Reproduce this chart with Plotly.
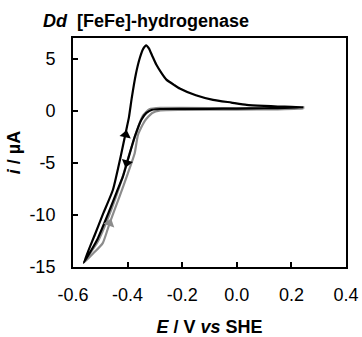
import plotly.graph_objects as go

# Black cyclic voltammogram (scan order)
black_E = [-0.561, -0.52, -0.49, -0.454, -0.423, -0.407, -0.395, -0.385, -0.37, -0.355, -0.342,
           -0.332, -0.322, -0.31, -0.295, -0.275, -0.258, -0.23, -0.209, -0.15, -0.087, -0.02,
           0.036, 0.1, 0.15, 0.2, 0.245,
           0.2, 0.1, 0.0, -0.1, -0.2, -0.28, -0.31, -0.331, -0.35, -0.374, -0.399, -0.417,
           -0.44, -0.47, -0.51, -0.561]
black_i = [-14.6, -11.9, -9.9, -7.6, -4.1, -2.1, -0.6, 1.2, 3.5, 5.1, 6.0,
           6.3, 6.0, 5.3, 4.45, 3.6, 3.0, 2.5, 2.15, 1.5, 1.06, 0.8,
           0.58, 0.48, 0.42, 0.38, 0.36,
           0.3, 0.25, 0.22, 0.2, 0.2, 0.18, 0.1, -0.2, -0.87, -2.5, -4.7, -6.3,
           -7.8, -9.8, -12.3, -14.6]

# Grey cyclic voltammogram
grey_E = [-0.561, -0.53, -0.491, -0.466, -0.429, -0.399, -0.374, -0.362, -0.338, -0.31,
          -0.28, -0.2, 0.0, 0.15, 0.245,
          0.15, 0.0, -0.2, -0.28, -0.32, -0.345, -0.37, -0.395, -0.42, -0.46, -0.51, -0.561]
grey_i = [-14.6, -13.8, -12.7, -10.8, -8.2, -6.0, -4.07, -2.3, -1.0, -0.2,
          0.05, 0.1, 0.12, 0.15, 0.2,
          0.25, 0.25, 0.28, 0.28, 0.15, -0.5, -2.2, -4.3, -6.5, -9.5, -12.6, -14.6]

# Scan-direction arrows
arrow_E = [-0.407, -0.403, -0.466]
arrow_i = [-2.3, -5.0, -10.8]
arrow_symbol = ["triangle-up", "triangle-down", "triangle-up"]
arrow_angle = [12, 16, 18]
arrow_color = ["black", "black", "#8c8c8c"]

x_ticks = [-0.6, -0.4, -0.2, 0.0, 0.2, 0.4]
x_tick_labels = ["-0.6", "-0.4", "-0.2", "0.0", "0.2", "0.4"]
y_ticks = [-15, -10, -5, 0, 5]
y_tick_labels = ["-15", "-10", "-5", "0", "5"]

fig = go.Figure()
fig.add_trace(go.Scatter(x=grey_E, y=grey_i, mode="lines",
                         line=dict(color="#8c8c8c", width=2.2, shape="spline", smoothing=0.5),
                         showlegend=False))
fig.add_trace(go.Scatter(x=black_E, y=black_i, mode="lines",
                         line=dict(color="black", width=2.2, shape="spline", smoothing=0.5),
                         showlegend=False))
fig.add_trace(go.Scatter(x=arrow_E, y=arrow_i, mode="markers",
                         marker=dict(symbol=arrow_symbol, angle=arrow_angle, size=10,
                                     color=arrow_color, line=dict(width=0)),
                         showlegend=False))

font_family = "Liberation Sans, Arial, sans-serif"
axis_common = dict(showline=True, mirror=True, linewidth=2, linecolor="black",
                   ticks="inside", ticklen=5, tickwidth=2, tickcolor="black",
                   showgrid=False, zeroline=False, automargin=False,
                   tickfont=dict(family=font_family, size=18, color="black"))

fig.update_xaxes(range=[-0.6, 0.4], tickvals=x_ticks, ticktext=x_tick_labels,
                 ticklabelstandoff=10,
                 title=dict(text="<b><i>E</i> / V <i>vs</i> SHE</b>",
                            font=dict(family=font_family, size=18, color="black"),
                            standoff=22),
                 **axis_common)
fig.update_yaxes(range=[-15, 7], tickvals=y_ticks, ticktext=y_tick_labels,
                 ticklabelstandoff=12,
                 title=dict(text="<b><i>i</i> / µA</b>",
                            font=dict(family=font_family, size=18, color="black"),
                            standoff=4),
                 **axis_common)

fig.update_layout(
    width=362, height=337,
    margin=dict(l=73, r=16, t=38, b=70),
    paper_bgcolor="white", plot_bgcolor="white",
    title=dict(text="<b><i>Dd</i>  [FeFe]-hydrogenase</b>",
               font=dict(family=font_family, size=18, color="black"),
               x=0.119, xanchor="left", xref="container",
               y=1 - 21 / 337, yanchor="middle", yref="container"),
)

fig.write_html("out.html")
